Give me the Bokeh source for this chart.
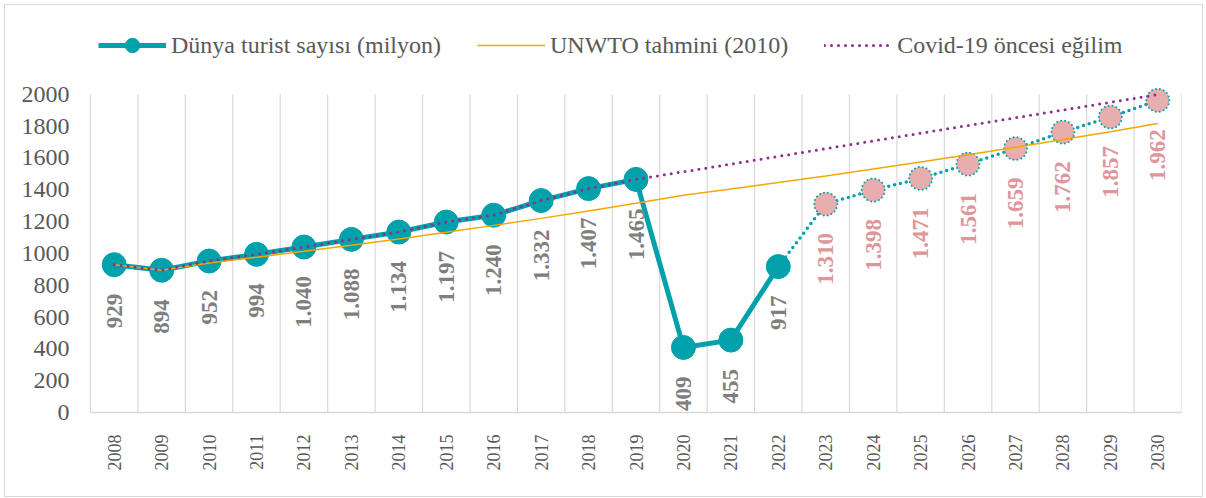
import math
from bokeh.plotting import figure
from bokeh.models import Range1d, FixedTicker, Legend, LegendItem
from bokeh.embed import file_html
from bokeh.resources import INLINE
from bokeh.core.properties import value

# ---- data ----
years = [2008, 2009, 2010, 2011, 2012, 2013, 2014, 2015, 2016, 2017, 2018, 2019,
         2020, 2021, 2022, 2023, 2024, 2025, 2026, 2027, 2028, 2029, 2030]
actual_years = [2008, 2009, 2010, 2011, 2012, 2013, 2014, 2015, 2016, 2017, 2018, 2019,
                2020, 2021, 2022]
actual = [929, 894, 952, 994, 1040, 1088, 1134, 1197, 1240, 1332, 1407, 1465, 409, 455, 917]
forecast_years = [2023, 2024, 2025, 2026, 2027, 2028, 2029, 2030]
forecast = [1310, 1398, 1471, 1561, 1659, 1762, 1857, 1962]
unwto = [929, 894, 940, 976, 1013, 1051, 1091, 1133, 1176, 1220, 1267, 1315,
         1365, 1405, 1445, 1487, 1530, 1575, 1620, 1667, 1716, 1765, 1816]
trend = [929, 894, 952, 994, 1040, 1088, 1134, 1197, 1240, 1332, 1407, 1465,
         1513, 1561, 1610, 1658, 1707, 1755, 1804, 1852, 1901, 1949, 1998]
y_ticks = [0, 200, 400, 600, 800, 1000, 1200, 1400, 1600, 1800, 2000]
legend_labels = ["Dünya turist sayısı (milyon)", "UNWTO tahmini (2010)", "Covid-19 öncesi eğilim"]

TEAL = "#00A1AA"
PINK = "#E8ADAD"
PINK_TXT = "#E0959A"
GRAY_TXT = "#7F7F7F"
ORANGE = "#F4A700"
PURPLE = "#8E2E8E"
AXIS_TXT = "#595959"
GRID = "#D9D9D9"
FONT = "Liberation Serif"


def fmt(v):
    return f"{v:,}".replace(",", ".")


# figure sits at (5,5); frame x 90..1181, y 15..412 on the page (value 2000 at ~94)
p = figure(width=1197, height=491, output_backend="svg", toolbar_location=None,
           x_range=Range1d(2007.5, 2030.5), y_range=Range1d(0, 2495),
           min_border_left=85, min_border_right=21, min_border_top=10, min_border_bottom=84)
p.margin = (5, 0, 0, 5)
p.outline_line_color = None
p.xgrid.grid_line_color = None
p.ygrid.grid_line_color = None
p.styles = {"outline": "1px solid #D9D9D9", "outline-offset": "0px"}

# category separators
bounds = [y + 0.5 for y in years]
p.segment(x0=bounds, y0=[y_ticks[0]] * len(bounds), x1=bounds, y1=[y_ticks[-1]] * len(bounds),
          line_color=GRID, line_width=1.2)

# axes
p.xaxis.ticker = FixedTicker(ticks=years)
p.xaxis.major_label_orientation = math.pi / 2
p.xaxis.major_tick_line_color = None
p.xaxis.minor_tick_line_color = None
p.xaxis.axis_line_color = GRID
p.xaxis.axis_line_width = 1.5
p.xaxis.major_label_text_font = FONT
p.xaxis.major_label_text_font_size = "18px"
p.xaxis.major_label_text_color = AXIS_TXT
p.xaxis.major_label_standoff = 16

p.yaxis.ticker = FixedTicker(ticks=y_ticks)
p.yaxis.bounds = (y_ticks[0], y_ticks[-1])
p.yaxis.major_tick_line_color = None
p.yaxis.minor_tick_line_color = None
p.yaxis.axis_line_color = GRID
p.yaxis.axis_line_width = 1.2
p.yaxis.major_label_text_font = FONT
p.yaxis.major_label_text_font_size = "24px"
p.yaxis.major_label_text_color = AXIS_TXT
p.yaxis.major_label_standoff = 15

# series
teal_line = p.line(actual_years, actual, line_color=TEAL, line_width=5)
p.line([actual_years[-1]] + forecast_years, [actual[-1]] + forecast, line_color=TEAL,
       line_width=3.5, line_dash="0 6", line_cap="round")
teal_pts = p.scatter(actual_years, actual, size=24, fill_color=TEAL, line_color=TEAL)
p.scatter(forecast_years, forecast, size=23, fill_color=PINK, line_color=TEAL,
          line_width=2, line_dash="0 4", line_cap="round")
orange_line = p.line(years, unwto, line_color=ORANGE, line_width=1.5)
purple_line = p.line(years, trend, line_color=PURPLE, line_width=3, line_dash="0 7",
                     line_cap="round")

# data labels
p.text(x=actual_years, y=actual, text=[fmt(v) for v in actual], angle=math.pi / 2,
       text_align="right", text_baseline="middle", y_offset=29,
       text_font=value(FONT), text_font_style="bold", text_font_size="23px",
       text_color=GRAY_TXT)
p.text(x=forecast_years, y=forecast, text=[fmt(v) for v in forecast], angle=math.pi / 2,
       text_align="right", text_baseline="middle", y_offset=29,
       text_font=value(FONT), text_font_style="bold", text_font_size="23px",
       text_color=PINK_TXT)

legend = Legend(items=[LegendItem(label=legend_labels[0], renderers=[teal_line, teal_pts]),
                       LegendItem(label=legend_labels[1], renderers=[orange_line]),
                       LegendItem(label=legend_labels[2], renderers=[purple_line])],
                orientation="horizontal", location=(8, 349), padding=0, margin=0,
                spacing=36, glyph_width=68, glyph_height=36, label_standoff=5,
                border_line_color=None, background_fill_alpha=0,
                label_text_font=FONT, label_text_font_size="24px",
                label_text_color=AXIS_TXT)
p.add_layout(legend)

open("out.html", "w", encoding="utf-8").write(file_html(p, INLINE))
